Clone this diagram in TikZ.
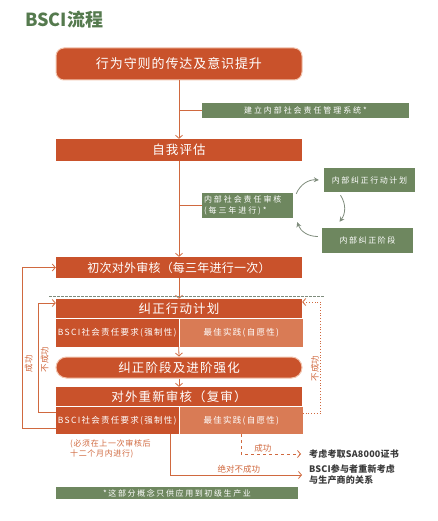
\documentclass[tikz,border=0pt]{standalone}
\usepackage{fontspec}
\setmainfont{Noto Sans CJK SC}
\usepackage{xcolor}
\usepackage{tikz}
\usetikzlibrary{arrows.meta, positioning, calc}

\definecolor{bsciorange}{HTML}{C9522B}
\definecolor{bscilight}{HTML}{D97B55}
\definecolor{bscigreen}{HTML}{6E875F}
\definecolor{bscititle}{HTML}{557A4E}
\definecolor{bsciline}{HTML}{D0693F}
\definecolor{bscirim}{HTML}{F2C4AE}
\definecolor{bscigray}{HTML}{7F8C7C}
\definecolor{bscitext}{HTML}{3A3A3A}

\newcommand{\spaced}[1]{\addfontfeatures{LetterSpace=#1}}

\begin{document}
\begin{tikzpicture}[
    x=1pt, y=-1pt,
    stage/.style={rectangle, fill=bsciorange, text=white, minimum width=246pt, minimum height=21pt, inner sep=0pt, font=\fontsize{12.5}{14}\selectfont\spaced{9}},
    pill/.style={stage, draw=bscirim, line width=1pt, rounded corners=8pt},
    half/.style={rectangle, fill=bsciorange, text=white, minimum width=122.5pt, minimum height=28pt, inner sep=0pt, font=\fontsize{8.5}{10}\selectfont\spaced{15}},
    best/.style={half, fill=bscilight},
    tag/.style={rectangle, fill=bscigreen, text=white, inner sep=0pt, font=\fontsize{8}{10.5}\selectfont\spaced{24}},
    arrow/.style={draw=bsciline, line width=0.8pt, -{Straight Barb[length=3pt,width=7pt]}},
    link/.style={draw=bsciline, line width=0.8pt},
    loopback/.style={draw=bscigray, line width=0.8pt, -{Stealth[length=5pt,width=5pt]}},
    result/.style={text=bscitext, font=\fontsize{9}{11}\selectfont\bfseries\spaced{2}, align=left, anchor=west, inner sep=0pt},
    lbl/.style={text=bsciline, font=\fontsize{8.5}{9}\selectfont, inner sep=1.5pt},
    sepline/.style={draw=bscigray, line width=0.6pt, dash pattern=on 2.5pt off 1.5pt}
]
    \useasboundingbox (0,0) rectangle (437,521);

    \node[anchor=west, text=bscititle, font=\fontsize{18}{20}\selectfont\bfseries, inner sep=0pt] (title) at (25,20) {BSCI流程};

    % main column
    \node[pill, minimum height=32pt, font=\fontsize{13}{15}\selectfont\spaced{7}] (comm) at (179,64) {行为守则的传达及意识提升};
    \node[stage, minimum height=22pt] (selfeval) at (179,150) {自我评估};
    \node[stage, font=\fontsize{12}{14}\selectfont\spaced{2}] (extaudit) at (179,267.5) {初次对外审核（每三年进行一次）};
    \node[stage, minimum height=19pt] (cap) at (179,308.5) {纠正行动计划};
    \node[half] (capreq) at (117.25,333) {BSCI社会责任要求(强制性)};
    \node[best] (capbest) at (241.25,333) {最佳实践(自愿性)};
    \node[pill, rounded corners=10.5pt] (fix) at (179,367.5) {纠正阶段及进阶强化};
    \node[stage, minimum height=19pt] (reaudit) at (179,396.5) {对外重新审核（复审）};
    \node[half, minimum height=27pt] (rereq) at (117.25,420.5) {BSCI社会责任要求(强制性)};
    \node[best, minimum height=27pt] (rebest) at (241.25,420.5) {最佳实践(自愿性)};

    % internal side steps
    \node[tag, minimum width=207pt, minimum height=15pt] (mgmt) at (305.5,110.5) {建立内部社会责任管理系统*};
    \node[tag, minimum width=91pt, minimum height=25pt, text width=87pt, align=left] (intaudit) at (247.5,205.5) {内部社会责任审核\\(每三年进行)*};
    \node[tag, minimum width=91pt, minimum height=24pt, font=\fontsize{8}{10}\selectfont\spaced{20}] (intplan) at (369.5,180) {内部纠正行动计划};
    \node[tag, minimum width=91pt, minimum height=25pt, font=\fontsize{8}{10}\selectfont\spaced{20}] (intfix) at (367.5,240.5) {内部纠正阶段};

    % notes and outcomes
    \node[lbl, anchor=north west, align=left, inner sep=0pt, font=\fontsize{8}{10}\selectfont\spaced{8}] (note) at (70,440) {(必须在上一次审核后\\十二个月内进行)};
    \node[result] (sa) at (309,454) {考虑考取SA8000证书};
    \node[result] (rethink) at (309,475) {BSCI参与者重新考虑\\与生产商的关系};
    \node[tag, minimum width=242pt, minimum height=12pt, font=\fontsize{8}{10}\selectfont\spaced{20}] (footnote) at (177,493) {*这部分概念只供应用到初级生产业};

    \coordinate (sepL) at (49,296);
    \coordinate (sepR) at (325,296);

    % trunk
    \draw[arrow] (comm) -- (selfeval);
    \draw[link] (mgmt.west) -- (mgmt.west -| comm.south);
    \draw[arrow] (selfeval) -- (extaudit);
    \draw[link] (intaudit.west) -- (intaudit.west -| selfeval.south);
    \draw[arrow] (extaudit) -- (cap);
    \draw[arrow] (capreq.south east) -- (fix.north);
    \draw[arrow] (fix) -- (reaudit);
    \draw[sepline] (sepL) -- (sepR);

    % internal cycle
    \draw[loopback] ([xshift=3pt,yshift=-1pt]intaudit.north east) to[bend left=35] ([xshift=-5pt]intplan.west);
    \draw[loopback] ([xshift=-29pt,yshift=-3pt]intplan.south) to[bend left=35] ([xshift=-28pt,yshift=6pt]intfix.north);
    \draw[loopback] ([xshift=-4pt,yshift=4pt]intfix.west) to[bend left=35] ([xshift=4pt,yshift=-4pt]intaudit.south east);

    % loops back
    \draw[arrow] ([yshift=-7.5pt]rereq.west) -- ++(-33,0) |- node[lbl, pos=0.2, anchor=north, rotate=90] {成功} (extaudit.west);
    \draw[arrow] ([yshift=8.5pt]rereq.west) -- ++(-17,0) |- node[lbl, pos=0.24, anchor=north, rotate=90] {不成功} ([yshift=5.5pt]cap.west);
    \draw[arrow, dotted] ([yshift=7.5pt]rebest.east) -- ++(18,0) |- node[lbl, pos=0.2, anchor=south, rotate=90] {不成功} ([yshift=6.5pt]cap.east);

    % outcomes
    \draw[arrow, dashed] (rebest.south) |- node[lbl, pos=0.68, above] {成功} ([xshift=-8pt]sa.west);
    \draw[arrow] ([xshift=-8pt]rereq.south east) |- node[lbl, pos=0.76, above] {绝对不成功} ([xshift=-7pt]rethink.west);
\end{tikzpicture}
\end{document}
